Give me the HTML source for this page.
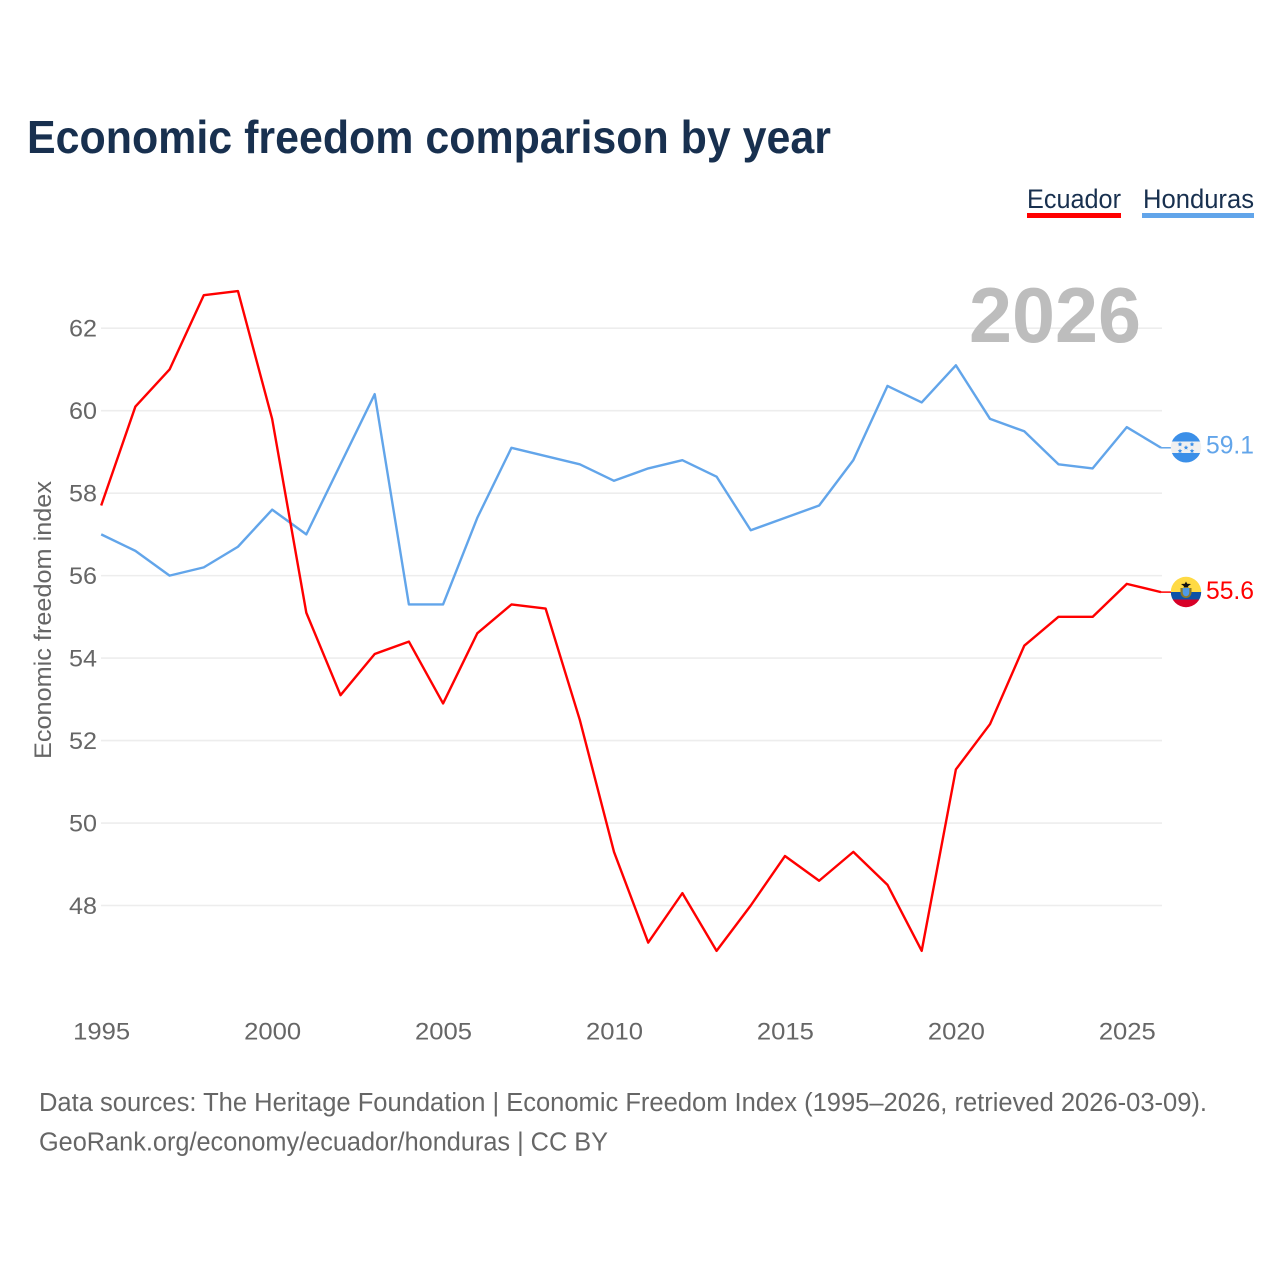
<!DOCTYPE html>
<html lang="en">
<head>
<meta charset="utf-8">
<title>Economic freedom comparison by year</title>
<style>
html,body{margin:0;padding:0;background:#fff;}
svg{display:block;}
text{font-family:"Liberation Sans",sans-serif;}
</style>
</head>
<body>
<svg id="chart" width="1280" height="1280" viewBox="0 0 1280 1280" xmlns="http://www.w3.org/2000/svg">
  <rect x="0" y="0" width="1280" height="1280" fill="#fff"/>
  <text x="27" y="153" font-size="46" font-weight="700" fill="#18304f" textLength="804" lengthAdjust="spacingAndGlyphs">Economic freedom comparison by year</text>

  <g>
    <g>
      <text x="1027" y="208" font-size="27" fill="#18304f" textLength="94" lengthAdjust="spacingAndGlyphs">Ecuador</text>
      <rect x="1027" y="213" width="94" height="5" fill="#ff0000"/>
    </g>
    <g>
      <text x="1143" y="208" font-size="27" fill="#18304f" textLength="111" lengthAdjust="spacingAndGlyphs">Honduras</text>
      <rect x="1142" y="213" width="112" height="5" fill="#62a5ea"/>
    </g>
  </g>

  <g id="grid"></g>
  <g id="yticks"></g>
  <g id="xticks"></g>

  <text x="969" y="342" font-size="78" font-weight="700" fill="#bdbdbd" textLength="172" lengthAdjust="spacingAndGlyphs">2026</text>

  <text transform="translate(51,759) rotate(-90)" font-size="24" fill="#666" textLength="278" lengthAdjust="spacingAndGlyphs">Economic freedom index</text>

  <g id="series"></g>

  <g>
    <clipPath id="clip-hn"><circle cx="1186" cy="447.300" r="15.200"/></clipPath>
    <g clip-path="url(#clip-hn)">
      <rect x="1170" y="432" width="32" height="10" fill="#3b8fe8"/>
      <rect x="1170" y="441.500" width="32" height="11.500" fill="#f0f0f0"/>
      <rect x="1170" y="453" width="32" height="11" fill="#3b8fe8"/>
      <path d="M1186 445.200l.7 1.500 1.600.2-1.200 1.100.3 1.600-1.400-.8-1.400.8.3-1.600-1.200-1.100 1.600-.2z" fill="#3b8fe8"/>
      <path d="M1180 441.900l.7 1.500 1.600.2-1.200 1.100.3 1.600-1.400-.8-1.400.8.3-1.600-1.200-1.100 1.600-.2z" fill="#3b8fe8"/>
      <path d="M1192 441.900l.7 1.500 1.600.2-1.200 1.100.3 1.600-1.400-.8-1.400.8.3-1.600-1.200-1.100 1.600-.2z" fill="#3b8fe8"/>
      <path d="M1180 448.600l.7 1.500 1.600.2-1.200 1.100.3 1.600-1.400-.8-1.400.8.3-1.600-1.200-1.100 1.600-.2z" fill="#3b8fe8"/>
      <path d="M1192 448.600l.7 1.500 1.600.2-1.200 1.100.3 1.600-1.400-.8-1.400.8.3-1.600-1.200-1.100 1.600-.2z" fill="#3b8fe8"/>
    </g>
  </g>
  <g>
    <clipPath id="clip-ec"><circle cx="1186" cy="592" r="15.200"/></clipPath>
    <g clip-path="url(#clip-ec)">
      <rect x="1170" y="576" width="32" height="16" fill="#ffda44"/>
      <rect x="1170" y="592" width="32" height="7.500" fill="#0b52a8"/>
      <rect x="1170" y="599.500" width="32" height="8" fill="#d80027"/>
      <path d="M1180.500 588 v4.500 a5.500 5.500 0 0 0 11 0 v-4.500 z" fill="#8a7a2a"/>
      <path d="M1182.700 588 v4.500 a3.300 3.800 0 0 0 6.600 0 v-4.500 z" fill="#4f9be6"/>
      <path d="M1186 581.500 l1.200 2.200 3.800 .3 -3 2.200 .5 1.300 h-5 l.5 -1.300 -3 -2.200 3.800 -.3 z" fill="#111"/>
    </g>
  </g>

  <text id="end-hn" x="1206" y="453.500" font-size="25" fill="#62a5ea" textLength="48" lengthAdjust="spacingAndGlyphs"></text>
  <text id="end-ec" x="1206" y="599" font-size="25" fill="#ff0000" textLength="48" lengthAdjust="spacingAndGlyphs"></text>

  <g>
    <text x="39" y="1111" font-size="25.500" fill="#666" textLength="1168" lengthAdjust="spacingAndGlyphs">Data sources: The Heritage Foundation | Economic Freedom Index (1995–2026, retrieved 2026-03-09).</text>
    <text x="39" y="1150.500" font-size="25.500" fill="#666" textLength="569" lengthAdjust="spacingAndGlyphs">GeoRank.org/economy/ecuador/honduras | CC BY</text>
  </g>
</svg>
<script>
const years = [1995,1996,1997,1998,1999,2000,2001,2002,2003,2004,2005,2006,2007,2008,2009,2010,2011,2012,2013,2014,2015,2016,2017,2018,2019,2020,2021,2022,2023,2024,2025,2026];
const ecuador = [57.7,60.1,61.0,62.8,62.9,59.8,55.1,53.1,54.1,54.4,52.9,54.6,55.3,55.2,52.5,49.3,47.1,48.3,46.9,48.0,49.2,48.6,49.3,48.5,46.9,51.3,52.4,54.3,55.0,55.0,55.8,55.6];
const honduras = [57.0,56.6,56.0,56.2,56.7,57.6,57.0,58.7,60.4,55.3,55.3,57.4,59.1,58.9,58.7,58.3,58.6,58.8,58.4,57.1,57.4,57.7,58.8,60.6,60.2,61.1,59.8,59.5,58.7,58.6,59.6,59.1];
const yTicks = [48,50,52,54,56,58,60,62];
const xTicks = [1995,2000,2005,2010,2015,2020,2025];

const NS = 'http://www.w3.org/2000/svg';
function xScale(year){ return 101.2 + (year - 1995) * (1161 - 101.2) / 31; }
function yScale(v){ return 905.5 - (v - 48) * (905.5 - 328.2) / 14; }
function make(tag, attrs, text){
  const el = document.createElementNS(NS, tag);
  for (const k in attrs) el.setAttribute(k, attrs[k]);
  if (text !== undefined) el.textContent = text;
  return el;
}

const gridG = document.getElementById('grid');
const yG = document.getElementById('yticks');
const xG = document.getElementById('xticks');
const seriesG = document.getElementById('series');

yTicks.forEach(function(t){
  const line = make('line', {x1: 101, x2: 1162, y1: yScale(t), y2: yScale(t), stroke: '#ededed', 'stroke-width': 1.6});
  
  
  gridG.appendChild(line);
  const label = make('text', {x: 97, y: yScale(t) + 8.5, 'text-anchor': 'end', 'font-size': 24.5, fill: '#666', textLength: 28, lengthAdjust: 'spacingAndGlyphs'}, String(t));
  
  
  yG.appendChild(label);
});

xTicks.forEach(function(t){
  const label = make('text', {x: xScale(t) - 28, y: 1039.5, 'font-size': 24.5, fill: '#666', textLength: 57, lengthAdjust: 'spacingAndGlyphs'}, String(t));
  
  
  xG.appendChild(label);
});

function drawSeries(values, color, name){
  const pts = values.map(function(v, i){ return xScale(years[i]).toFixed(2) + ',' + yScale(v).toFixed(2); });
  const line = make('polyline', {points: pts.join(' '), fill: 'none', stroke: color, 'stroke-width': 2.4, 'stroke-linejoin': 'round'});
  
  
  seriesG.appendChild(line);
  const last = values[values.length - 1];
  const lastX = xScale(years[years.length - 1]);
  const conn = make('line', {x1: lastX, x2: lastX + 10, y1: yScale(last), y2: yScale(last), stroke: color, 'stroke-width': 1.5});
  
  
  seriesG.appendChild(conn);
}
drawSeries(honduras, '#62a5ea', 'honduras');
drawSeries(ecuador, '#ff0000', 'ecuador');

document.getElementById('end-hn').textContent = honduras[honduras.length - 1].toFixed(1);
document.getElementById('end-ec').textContent = ecuador[ecuador.length - 1].toFixed(1);
</script>
</body>
</html>
